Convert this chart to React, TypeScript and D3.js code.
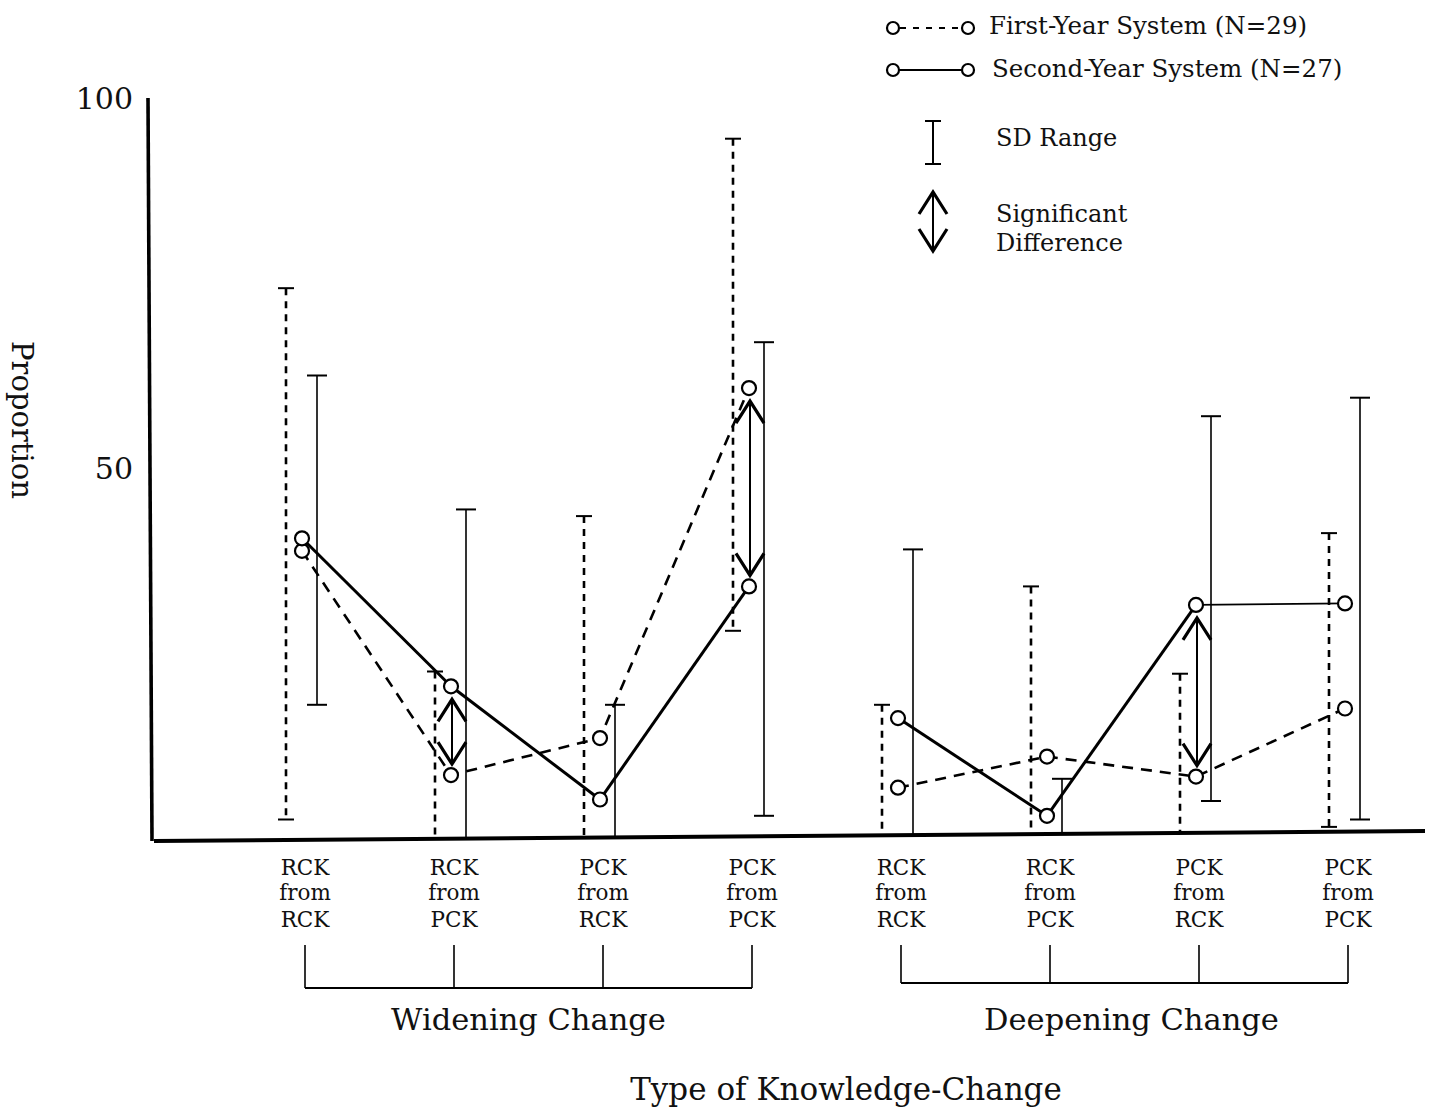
import React from "react";
import * as d3 from "d3";

// ---------- data ----------
const catTop = ["RCK", "RCK", "PCK", "PCK", "RCK", "RCK", "PCK", "PCK"];
const catMid = ["from", "from", "from", "from", "from", "from", "from", "from"];
const catBottom = ["RCK", "PCK", "RCK", "PCK", "RCK", "PCK", "RCK", "PCK"];
const groupNames = ["Widening Change", "Deepening Change"];
const groupMembers = [[0, 1, 2, 3], [4, 5, 6, 7]];

const firstMean = [38.8, 8.5, 13.5, 60.8, 6.8, 11.0, 8.3, 17.5];
const firstLo = [2.5, 0, 0, 28.0, 0, 0, 0, 1.5];
const firstHi = [74.3, 22.5, 43.5, 94.5, 18.0, 34.0, 22.2, 41.2];

const secondMean = [40.5, 20.5, 5.2, 34.0, 16.2, 3.0, 31.5, 31.7];
const secondLo = [18.0, 0, 0, 3.0, 0, 0, 5.0, 2.5];
const secondHi = [62.5, 44.4, 18.0, 67.0, 39.0, 8.0, 57.0, 59.5];

const sigIdx = [1, 3, 6];
const yTicks = [50, 100];

const legendSeries = ["First-Year System (N=29)", "Second-Year System (N=27)"];

// ---------- layout ----------
const W = 1435;
const H = 1113;
const serif = "'DejaVu Serif', serif";

const y = d3.scaleLinear().domain([0, 100]).range([838, 98]);
const x = d3
  .scalePoint<number>()
  .domain(d3.range(catTop.length))
  .range([305, 1348]);

// slightly tilted baseline (as in the scanned original)
const AX_X0 = 154;
const AX_X1 = 1425;
const baseY = d3.scaleLinear().domain([AX_X0, AX_X1]).range([y(0) + 3, y(0) - 7]);

const DASH_ERR = -19;
const SOLID_ERR = 12;
const PT = -3;

function ArrowHead({ cx, cy, dir }: { cx: number; cy: number; dir: 1 | -1 }) {
  const w = 14;
  const h = 22;
  return (
    <path
      d={`M${cx - w},${cy - dir * h} L${cx},${cy} L${cx + w},${cy - dir * h}`}
      fill="none"
      stroke="#000"
      strokeWidth={3.2}
      strokeLinejoin="miter"
    />
  );
}

function DoubleArrow({ cx, y1, y2 }: { cx: number; y1: number; y2: number }) {
  return (
    <g>
      <line x1={cx} x2={cx} y1={y1} y2={y2} stroke="#000" strokeWidth={2} />
      <ArrowHead cx={cx} cy={y1} dir={-1} />
      <ArrowHead cx={cx} cy={y2} dir={1} />
    </g>
  );
}

function ErrBar({
  cx,
  lo,
  hi,
  dashed,
}: {
  cx: number;
  lo: number;
  hi: number;
  dashed: boolean;
}) {
  const cap = dashed ? 8 : 10;
  const yl = lo > 0.5 ? y(lo) : baseY(cx);
  const yh = y(hi);
  return (
    <g stroke="#000">
      <line
        x1={cx}
        x2={cx}
        y1={yh}
        y2={yl}
        strokeWidth={dashed ? 2.6 : 1.6}
        strokeDasharray={dashed ? "7 6" : undefined}
      />
      <line x1={cx - cap} x2={cx + cap} y1={yh} y2={yh} strokeWidth={2} />
      {lo > 0.5 && (
        <line x1={cx - cap} x2={cx + cap} y1={yl} y2={yl} strokeWidth={2} />
      )}
    </g>
  );
}

export default function App() {
  const segs: { i: number; j: number }[] = [];
  groupMembers.forEach((g) => {
    for (let k = 0; k < g.length - 1; k++) segs.push({ i: g[k], j: g[k + 1] });
  });

  return (
    <svg
      width={W}
      height={H}
      style={{ position: "absolute", left: 0, top: 0, background: "#fff" }}
    >
      <rect width={W} height={H} fill="#fff" />

      {/* axes */}
      <line x1={148} x2={152} y1={y(100)} y2={y(0) + 3} stroke="#000" strokeWidth={3.6} />
      <line
        x1={AX_X0}
        x2={AX_X1}
        y1={baseY(AX_X0)}
        y2={baseY(AX_X1)}
        stroke="#000"
        strokeWidth={4}
      />
      {yTicks.map((t) => (
        <text
          key={t}
          x={133}
          y={y(t) + 11}
          textAnchor="end"
          fontFamily={serif}
          fontSize={30}
          fill="#111"
        >
          {t}
        </text>
      ))}
      <text
        transform={`translate(12,${420}) rotate(90)`}
        textAnchor="middle"
        fontFamily={serif}
        fontSize={29}
        fill="#111"
      >
        Proportion
      </text>

      {/* error bars */}
      {firstMean.map((_, i) => (
        <ErrBar
          key={"fe" + i}
          cx={(x(i) as number) + DASH_ERR}
          lo={firstLo[i]}
          hi={firstHi[i]}
          dashed
        />
      ))}
      {secondMean.map((_, i) => (
        <ErrBar
          key={"se" + i}
          cx={(x(i) as number) + SOLID_ERR}
          lo={secondLo[i]}
          hi={secondHi[i]}
          dashed={false}
        />
      ))}

      {/* series lines */}
      {groupMembers.map((g, gi) => (
        <path
          key={"fl" + gi}
          d={
            d3
              .line<number>()
              .x((i) => (x(i) as number) + PT)
              .y((i) => y(firstMean[i]))(g) as string
          }
          fill="none"
          stroke="#000"
          strokeWidth={2.6}
          strokeDasharray="11 8"
        />
      ))}
      {segs.map(({ i, j }) => (
        <path
          key={"sl" + i}
          d={
            d3
              .line<number>()
              .x((k) => (x(k) as number) + PT)
              .y((k) => y(secondMean[k]))([i, j]) as string
          }
          fill="none"
          stroke="#000"
          strokeWidth={i === 6 ? 1.8 : 3}
        />
      ))}

      {/* points */}
      {firstMean.map((v, i) => (
        <circle
          key={"fp" + i}
          cx={(x(i) as number) + PT}
          cy={y(v)}
          r={7}
          fill="#fff"
          stroke="#000"
          strokeWidth={2.2}
        />
      ))}
      {secondMean.map((v, i) => (
        <circle
          key={"sp" + i}
          cx={(x(i) as number) + PT}
          cy={y(v)}
          r={7}
          fill="#fff"
          stroke="#000"
          strokeWidth={2.2}
        />
      ))}

      {/* significant differences */}
      {sigIdx.map((i) => {
        const a = y(Math.max(firstMean[i], secondMean[i]));
        const b = y(Math.min(firstMean[i], secondMean[i]));
        return (
          <DoubleArrow key={"sig" + i} cx={(x(i) as number) + PT + 1} y1={a + 13} y2={b - 11} />
        );
      })}

      {/* category labels */}
      {catTop.map((t, i) => (
        <text
          key={"cl" + i}
          x={x(i) as number}
          textAnchor="middle"
          fontFamily={serif}
          fontSize={21.5}
          fill="#111"
        >
          <tspan x={x(i) as number} y={875}>
            {t}
          </tspan>
          <tspan x={x(i) as number} y={900}>
            {catMid[i]}
          </tspan>
          <tspan x={x(i) as number} y={927}>
            {catBottom[i]}
          </tspan>
        </text>
      ))}

      {/* group brackets */}
      {groupMembers.map((g, gi) => {
        const x0 = x(g[0]) as number;
        const x1 = x(g[g.length - 1]) as number;
        const by = gi === 0 ? 988 : 983;
        const mid = (x0 + x1) / 2 + (gi === 1 ? 7 : 0);
        return (
          <g key={"gb" + gi}>
            <line x1={x0} x2={x1} y1={by} y2={by} stroke="#000" strokeWidth={2} />
            {g.map((i) => (
              <line
                key={i}
                x1={x(i) as number}
                x2={x(i) as number}
                y1={945}
                y2={by}
                stroke="#000"
                strokeWidth={1.6}
              />
            ))}
            <text
              x={mid}
              y={1030}
              textAnchor="middle"
              fontFamily={serif}
              fontSize={30.5}
              fill="#111"
            >
              {groupNames[gi]}
            </text>
          </g>
        );
      })}

      <text
        x={846}
        y={1100}
        textAnchor="middle"
        fontFamily={serif}
        fontSize={31}
        fill="#111"
      >
        Type of Knowledge-Change
      </text>

      {/* legend */}
      <g>
        <line x1={900} x2={961} y1={28} y2={28} stroke="#000" strokeWidth={2} strokeDasharray="6 7" />
        <circle cx={893} cy={28} r={6} fill="#fff" stroke="#000" strokeWidth={2.2} />
        <circle cx={968} cy={28} r={6} fill="#fff" stroke="#000" strokeWidth={2.2} />
        <text x={989} y={34} fontFamily={serif} fontSize={24.5} fill="#111">
          {legendSeries[0]}
        </text>

        <line x1={899} x2={962} y1={70} y2={70} stroke="#000" strokeWidth={2} />
        <circle cx={893} cy={70} r={6} fill="#fff" stroke="#000" strokeWidth={2.2} />
        <circle cx={968} cy={70} r={6} fill="#fff" stroke="#000" strokeWidth={2.2} />
        <text x={992} y={77} fontFamily={serif} fontSize={24.5} fill="#111">
          {legendSeries[1]}
        </text>

        <line x1={933} x2={933} y1={121} y2={164} stroke="#000" strokeWidth={2} />
        <line x1={925} x2={941} y1={121} y2={121} stroke="#000" strokeWidth={2} />
        <line x1={925} x2={941} y1={164} y2={164} stroke="#000" strokeWidth={2} />
        <text x={996} y={146} fontFamily={serif} fontSize={24} fill="#111">
          SD Range
        </text>

        <DoubleArrow cx={933} y1={192} y2={251} />
        <text x={996} y={222} fontFamily={serif} fontSize={24} fill="#111">
          Significant
        </text>
        <text x={996} y={251} fontFamily={serif} fontSize={24} fill="#111">
          Difference
        </text>
      </g>
    </svg>
  );
}
